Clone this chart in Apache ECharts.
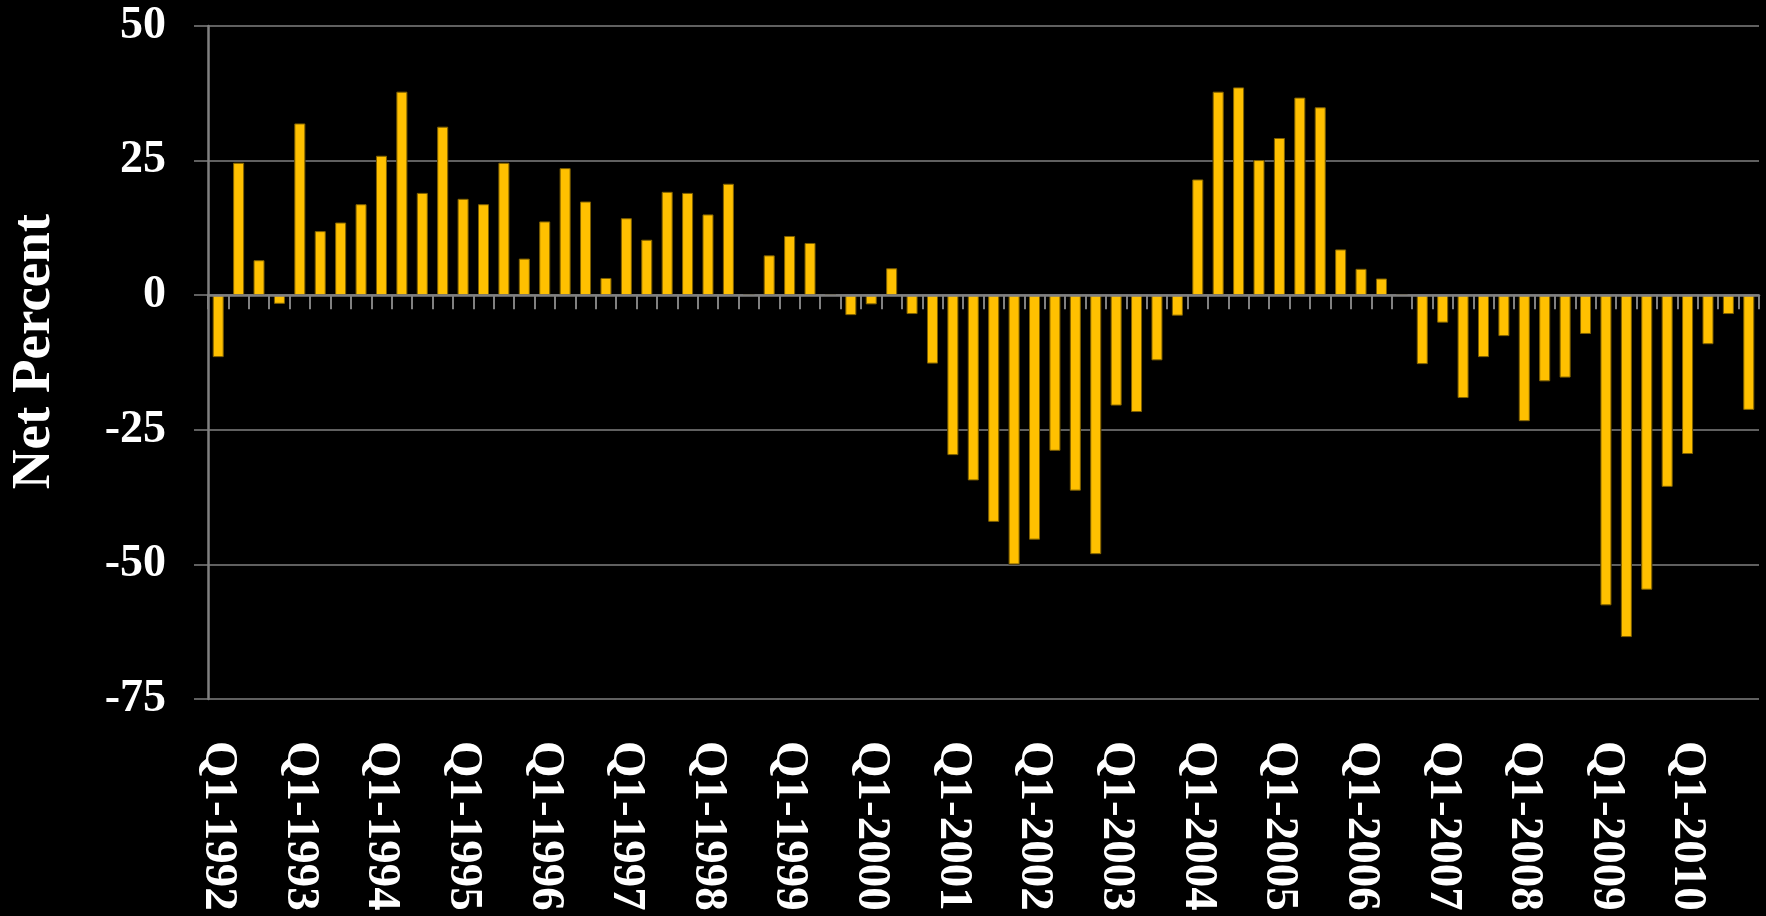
<!DOCTYPE html>
<html>
<head>
<meta charset="utf-8">
<title>Net Percent</title>
<script src="https://cdn.jsdelivr.net/npm/echarts@6/dist/echarts.min.js"></script>
<style>
  html, body {
    margin: 0;
    padding: 0;
    background: #000;
  }

  #chart {
    width: 1766px;
    height: 916px;
  }
</style>
</head>
<body>
<div id="chart"></div>
<script>
// years shown on the axis, one bar per quarter
var years = [1992, 1993, 1994, 1995, 1996, 1997, 1998, 1999, 2000, 2001,
  2002, 2003, 2004, 2005, 2006, 2007, 2008, 2009, 2010]
var quarters = ['Q1', 'Q2', 'Q3', 'Q4']

// net percent, Q1-1992 .. Q4-2010
var netPercent = [
  -11.5, 24.6, 6.5, -1.6,
  31.9, 11.9, 13.5, 16.9,
  25.9, 37.8, 19.0, 31.3,
  17.9, 16.9, 24.6, 6.8,
  13.7, 23.6, 17.4, 3.2,
  14.3, 10.3, 19.2, 19.0,
  15.0, 20.7, 0, 7.4,
  11.0, 9.7, 0, -3.7,
  -1.7, 5.0, -3.5, -12.7,
  -29.7, -34.4, -42.1, -50.0,
  -45.4, -28.9, -36.3, -48.1,
  -20.5, -21.7, -12.1, -3.8,
  21.5, 37.8, 38.6, 25.1,
  29.2, 36.7, 34.9, 8.5,
  4.9, 3.1, 0, -12.8,
  -5.1, -19.1, -11.5, -7.6,
  -23.4, -16.0, -15.3, -7.2,
  -57.6, -63.5, -54.7, -35.6,
  -29.5, -9.1, -3.5, -21.3
]

var yMin = -75
var yMax = 50
var yStep = 25

var categories = []
years.forEach(function (y) {
  quarters.forEach(function (q) {
    categories.push(q + '-' + y)
  })
})

var gray = '#808080'
var serif = 'Liberation Serif'

var chart = echarts.init(document.getElementById('chart'))
chart.setOption({
  backgroundColor: '#000',
  animation: false,
  grid: {
    left: 208,
    top: 26,
    width: 1551,
    height: 673,
    containLabel: false,
    outerBoundsMode: 'none'
  },
  xAxis: [
    {
      // axis line + ticks sitting on zero
      type: 'category',
      data: categories,
      z: 10,
      axisLine: {show: true, onZero: true, lineStyle: {color: gray, width: 2.5}},
      axisTick: {show: true, interval: 0, length: 14, lineStyle: {color: gray, width: 2}},
      axisLabel: {show: false},
      splitLine: {show: false}
    },
    {
      // labels only, at the bottom
      type: 'category',
      data: categories,
      position: 'bottom',
      axisLine: {show: false, onZero: false},
      axisTick: {show: false},
      splitLine: {show: false},
      axisLabel: {
        interval: 3,
        rotate: -90,
        margin: 42,
        color: '#fff',
        fontFamily: serif,
        fontWeight: 'bold',
        fontSize: 47
      }
    }
  ],
  yAxis: {
    type: 'value',
    min: yMin,
    max: yMax,
    interval: yStep,
    name: 'Net Percent',
    nameLocation: 'middle',
    nameRotate: 90,
    nameGap: 146,
    nameTextStyle: {
      color: '#fff',
      fontFamily: serif,
      fontWeight: 'bold',
      fontSize: 55,
      padding: [0, 0, 0, 22]
    },
    axisLine: {show: true, lineStyle: {color: gray, width: 2.5}},
    axisTick: {show: true, length: 14, lineStyle: {color: gray, width: 1.5}},
    splitLine: {show: true, lineStyle: {color: gray, width: 1.5}},
    axisLabel: {
      margin: 42,
      color: '#fff',
      fontFamily: serif,
      fontWeight: 'bold',
      fontSize: 46
    }
  },
  series: [
    {
      // black halo that breaks the gridlines next to each bar
      type: 'bar',
      data: netPercent,
      barWidth: 11,
      silent: true,
      itemStyle: {color: '#000', borderColor: '#000', borderWidth: 6}
    },
    {
      type: 'bar',
      data: netPercent,
      barWidth: 11,
      barGap: '-100%',
      itemStyle: {color: '#FFC000', borderColor: '#7f6000', borderWidth: 1}
    }
  ]
})
</script>
</body>
</html>
